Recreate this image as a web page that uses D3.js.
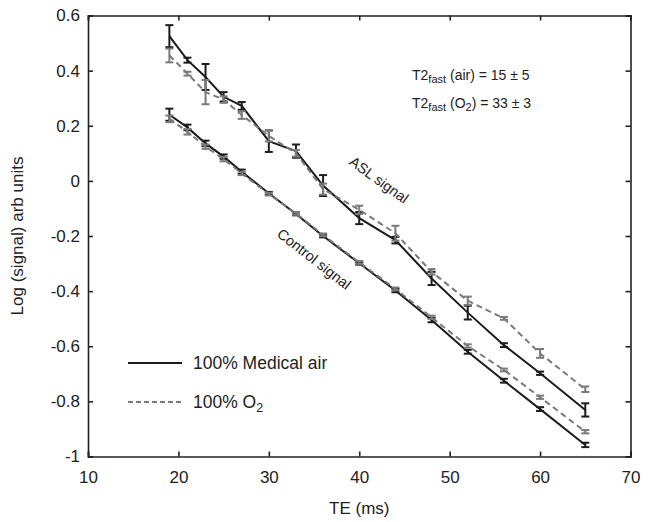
<!DOCTYPE html>
<html>
<head>
<meta charset="utf-8">
<script src="https://cdn.jsdelivr.net/npm/d3@7/dist/d3.min.js"></script>
<style>
  body { margin: 0; background: #fff; }
  text { font-family: "Liberation Sans", Arial, sans-serif; fill: #222; }
</style>
</head>
<body>
<div id="chart"></div>
<script>
// echo times (ms)
const te = [19, 21, 23, 25, 27, 30, 33, 36, 40, 44, 48, 52, 56, 60, 65];

// ASL signal
const aslAir    = [0.525, 0.438, 0.377, 0.305, 0.272, 0.144, 0.108, -0.017, -0.135, -0.215, -0.354, -0.478, -0.596, -0.698, -0.831];
const aslAirErr = [0.040, 0.009, 0.047, 0.017, 0.014, 0.039, 0.024, 0.038, 0.022, 0.012, 0.024, 0.025, 0.007, 0.006, 0.024];
const aslO2     = [0.455, 0.389, 0.322, 0.295, 0.239, 0.163, 0.100, -0.030, -0.105, -0.190, -0.330, -0.435, -0.499, -0.626, -0.756];
const aslO2Err  = [0.025, 0.007, 0.044, 0.012, 0.014, 0.020, 0.012, 0.020, 0.015, 0.027, 0.010, 0.015, 0.005, 0.016, 0.010];

// Control signal
const ctlAir    = [0.240, 0.194, 0.136, 0.088, 0.033, -0.045, -0.120, -0.200, -0.299, -0.398, -0.505, -0.620, -0.725, -0.828, -0.958];
const ctlAirErr = [0.022, 0.010, 0.010, 0.008, 0.008, 0.005, 0.005, 0.005, 0.005, 0.006, 0.008, 0.007, 0.007, 0.007, 0.008];
const ctlO2     = [0.225, 0.178, 0.124, 0.079, 0.027, -0.048, -0.118, -0.196, -0.296, -0.392, -0.495, -0.599, -0.686, -0.785, -0.910];
const ctlO2Err  = [0.012, 0.010, 0.008, 0.008, 0.006, 0.005, 0.005, 0.005, 0.005, 0.005, 0.006, 0.006, 0.005, 0.006, 0.006];

const xTicks = [10, 20, 30, 40, 50, 60, 70];
const yTicks = [0.6, 0.4, 0.2, 0, -0.2, -0.4, -0.6, -0.8, -1];
const legendLabels = ["100% Medical air", "100% O"];

const width = 651;
const height = 522;
const margin = { top: 15.5, right: 20.5, bottom: 65.5, left: 88 };
const w = width - margin.left - margin.right;
const h = height - margin.top - margin.bottom;

const black = "#1c1c1c";
const grey = "#7a7a7a";

const svg = d3.select("#chart")
    .append("svg")
    .attr("width", width)
    .attr("height", height);

const g = svg.append("g")
    .attr("transform", `translate(${margin.left},${margin.top})`);

// Scales
const x = d3.scaleLinear().domain([10, 70]).range([0, w]);
const y = d3.scaleLinear().domain([-1, 0.6]).range([h, 0]);

// Axes (ticks inward, matlab style)
const fmt = d => String(d);
g.append("g")
    .attr("transform", `translate(0,${h})`)
    .call(d3.axisBottom(x).tickValues(xTicks).tickSize(-5).tickPadding(14).tickFormat(fmt))
    .call(a => a.selectAll("text").attr("font-size", 17).attr("fill", "#222"));
g.append("g")
    .call(d3.axisLeft(y).tickValues(yTicks).tickSize(-5).tickPadding(8).tickFormat(fmt))
    .call(a => a.selectAll("text").attr("font-size", 17).attr("fill", "#222"));
g.append("g")
    .call(d3.axisTop(x).tickValues(xTicks).tickSize(-5).tickFormat(""));
g.append("g")
    .attr("transform", `translate(${w},0)`)
    .call(d3.axisRight(y).tickValues(yTicks).tickSize(-5).tickFormat(""));
g.selectAll(".domain, .tick line").attr("stroke", "#222").attr("stroke-width", 1.6);

// Series
const series = [
    { v: aslAir, e: aslAirErr, color: black, dash: null },
    { v: ctlAir, e: ctlAirErr, color: black, dash: null },
    { v: aslO2, e: aslO2Err, color: grey, dash: "6,4" },
    { v: ctlO2, e: ctlO2Err, color: grey, dash: "6,4" },
];

const line = d3.line().x(d => x(d.t)).y(d => y(d.v));
const cap = 4;

series.forEach(s => {
    const pts = te.map((t, i) => ({ t: t, v: s.v[i], e: s.e[i] }));
    g.append("path")
        .datum(pts)
        .attr("d", line)
        .attr("fill", "none")
        .attr("stroke", s.color)
        .attr("stroke-width", 2)
        .attr("stroke-dasharray", s.dash);

    const eb = g.append("g").attr("stroke", s.color).attr("stroke-width", 2);
    eb.selectAll("line.v").data(pts).enter().append("line")
        .attr("x1", d => x(d.t)).attr("x2", d => x(d.t))
        .attr("y1", d => y(d.v + d.e)).attr("y2", d => y(d.v - d.e));
    eb.selectAll("line.t").data(pts).enter().append("line")
        .attr("x1", d => x(d.t) - cap).attr("x2", d => x(d.t) + cap)
        .attr("y1", d => y(d.v + d.e)).attr("y2", d => y(d.v + d.e));
    eb.selectAll("line.b").data(pts).enter().append("line")
        .attr("x1", d => x(d.t) - cap).attr("x2", d => x(d.t) + cap)
        .attr("y1", d => y(d.v - d.e)).attr("y2", d => y(d.v - d.e));
});

// Curve labels
g.append("text")
    .attr("transform", `translate(${376 - margin.left},${184 - margin.top}) rotate(36)`)
    .attr("text-anchor", "middle")
    .attr("font-size", 14.5)
    .text("ASL signal");
g.append("text")
    .attr("transform", `translate(${311 - margin.left},${263 - margin.top}) rotate(38)`)
    .attr("text-anchor", "middle")
    .attr("font-size", 14.5)
    .text("Control signal");

// T2 annotations
const ann = [["air", "15 ± 5", 80], ["O2", "33 ± 3", 108]];
ann.forEach(a => {
    const t = svg.append("text").attr("x", 412).attr("y", a[2]).attr("font-size", 14);
    t.append("tspan").text("T2");
    t.append("tspan").attr("font-size", 11).attr("dy", 3).text("fast");
    if (a[0] === "O2") {
        t.append("tspan").attr("dy", -3).text(" (O");
        t.append("tspan").attr("font-size", 11).attr("dy", 3).text("2");
        t.append("tspan").attr("dy", -3).text(") = " + a[1]);
    } else {
        t.append("tspan").attr("dy", -3).text(" (air) = " + a[1]);
    }
});

// Legend
const lg = svg.append("g");
[[363, black, null], [402, grey, "5,3"]].forEach((r, i) => {
    lg.append("line")
        .attr("x1", 128).attr("x2", 182).attr("y1", r[0]).attr("y2", r[0])
        .attr("stroke", r[1]).attr("stroke-width", 1.8).attr("stroke-dasharray", r[2]);
    const t = lg.append("text").attr("x", 193).attr("y", r[0] + 6).attr("font-size", 17.5)
        .text(legendLabels[i]);
    if (i === 1) t.append("tspan").attr("font-size", 12.5).attr("dy", 4).text("2");
});

// Axis titles
svg.append("text")
    .attr("x", margin.left + w / 2).attr("y", 514)
    .attr("text-anchor", "middle").attr("font-size", 17)
    .text("TE (ms)");
svg.append("text")
    .attr("transform", `translate(23,${margin.top + h / 2}) rotate(-90)`)
    .attr("text-anchor", "middle").attr("font-size", 17)
    .text("Log (signal) arb units");
</script>
</body>
</html>
